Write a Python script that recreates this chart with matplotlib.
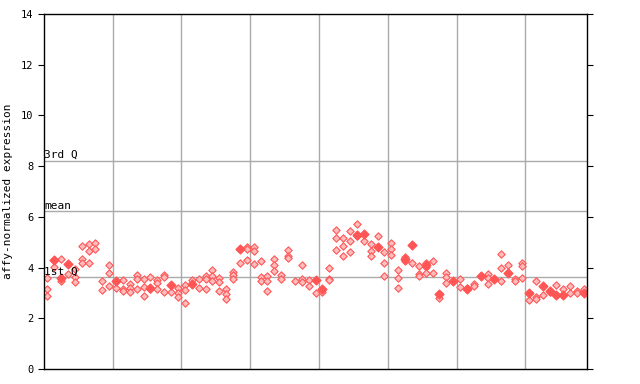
import matplotlib

matplotlib.use("Agg")
import matplotlib.pyplot as plt  # noqa: E402

# per-sample values (column index -> expression)
hollow_cols = [
    0, 0, 0, 1, 2, 2, 3, 4, 4, 4, 5, 5, 5, 6, 6, 6, 7, 7, 8, 8, 9, 9, 9,
    10, 11, 11, 11, 12, 12, 12, 13, 13, 13, 14, 14, 14, 15, 15, 16, 16, 16,
    17, 17, 17, 18, 19, 19, 19, 20, 20, 20, 21, 22, 22, 23, 23, 23, 24, 24, 24,
    25, 25, 25, 26, 26, 26, 27, 27, 27, 28, 29, 29, 29, 30, 30, 30, 31, 31, 31,
    32, 32, 32, 33, 33, 33, 34, 34, 35, 35, 35, 36, 37, 37, 37, 38, 38, 39, 40,
    41, 41, 41, 42, 42, 42, 43, 43, 43, 44, 44, 44, 45, 45, 46, 47, 47, 47,
    48, 49, 49, 49, 50, 50, 50, 51, 51, 51, 52, 52, 53, 54, 54, 54, 55, 55, 55,
    56, 56, 57, 58, 58, 58, 60, 60, 61, 62, 62, 64, 64, 64, 66, 66, 66, 67,
    68, 68, 69, 69, 69, 70, 71, 71, 71, 72, 73, 74, 75, 76, 76, 77, 77, 78,
]
hollow_vals = [
    3.57, 3.15, 2.87, 4.04, 4.33, 3.48, 3.73, 3.93, 3.61, 3.42, 4.84, 4.33, 4.18,
    4.92, 4.67, 4.17, 4.97, 4.75, 3.47, 3.10, 4.12, 3.77, 3.26,
    3.18, 3.51, 3.17, 3.06, 3.34, 3.18, 3.02, 3.69, 3.56, 3.15, 3.55, 3.25, 2.88,
    3.61, 3.15, 3.51, 3.39, 3.14,
    3.72, 3.61, 3.05, 3.04, 3.18, 2.98, 2.83, 3.30, 3.10, 2.59, 3.52, 3.55, 3.18,
    3.68, 3.55, 3.15, 3.89, 3.65, 3.46,
    3.57, 3.42, 3.08, 3.15, 2.95, 2.76, 3.81, 3.70, 3.55, 4.18, 4.80, 4.74, 4.28,
    4.82, 4.66, 4.16, 4.25, 3.63, 3.46,
    3.65, 3.48, 3.06, 4.33, 4.10, 3.86, 3.70, 3.53, 4.69, 4.45, 4.36, 3.47,
    4.12, 3.53, 3.44, 3.51, 3.26, 2.98, 3.05,
    4.00, 3.56, 3.51, 5.50, 5.18, 4.71, 5.18, 4.87, 4.44, 5.46, 5.05, 4.62,
    5.72, 5.24, 5.03, 4.91, 4.65, 4.46,
    5.25, 4.63, 4.20, 3.65, 4.96, 4.75, 4.48, 3.89, 3.57, 3.18, 4.42, 4.24,
    4.20, 4.08, 3.76, 3.68, 4.20, 4.02, 3.77,
    4.24, 3.77, 2.79, 3.77, 3.61, 3.38, 3.53, 3.22, 3.21, 3.34, 3.26, 3.73,
    3.57, 3.34, 4.55, 4.00, 3.49, 4.12,
    3.53, 3.46, 4.19, 4.06, 3.57, 2.72, 3.46, 2.83, 2.76, 2.91, 3.04, 3.31,
    3.14, 3.26, 2.98, 3.08, 2.98, 3.15,
]
filled_cols = [1, 2, 3, 10, 15, 18, 21, 28, 39, 40, 45, 46, 48, 52, 53, 55,
               57, 59, 61, 63, 65, 67, 70, 72, 73, 74, 75, 78]
filled_vals = [4.29, 3.57, 4.15, 3.48, 3.21, 3.32, 3.36, 4.74, 3.52, 3.17,
               5.30, 5.31, 4.82, 4.32, 4.90, 4.12, 2.97, 3.47, 3.14, 3.66,
               3.55, 3.80, 3.01, 3.27, 3.08, 2.93, 2.92, 3.01]

group_bounds = [9.5, 19.5, 29.5, 39.5, 49.5, 59.5, 69.5]
stat_lines = [("3rd Q", 8.22), ("mean", 6.22), ("1st Q", 3.61)]

RED = "#ff5555"
MONO = "DejaVu Sans Mono"

fig = plt.figure(figsize=(6.4, 3.84), dpi=100)
ax = fig.add_axes([44 / 640, 15 / 384, 543 / 640, 355 / 384])

for xb in group_bounds:
    ax.axvline(xb, color="#aaaaaa", lw=1, zorder=1)
for label, yv in stat_lines:
    ax.axhline(yv, color="#aaaaaa", lw=1, zorder=1)
    ax.text(-0.45, yv + 0.02, label, fontsize=8, family=MONO, va="bottom",
            ha="left", zorder=3)

ax.scatter(hollow_cols, hollow_vals, marker="D", s=14, facecolor="#ffbcbc",
           edgecolor=RED, linewidth=0.8, zorder=2)
ax.scatter(filled_cols, filled_vals, marker="D", s=20, color=RED, zorder=2)

ax.set_xlim(-0.48, 78.45)
ax.set_ylim(0, 14)
ax.set_yticks(range(0, 15, 2))
ax.set_xticks([])
ax.tick_params(axis="y", direction="out", length=4, labelsize=7.5,
               right=True, left=True)
for lab in ax.get_yticklabels():
    lab.set_family(MONO)
for sp in ax.spines.values():
    sp.set_color("black")
    sp.set_linewidth(1)
ax.set_ylabel("affy-normalized expression", fontsize=8, family=MONO,
              labelpad=6)

fig.savefig("out.png", dpi=100)
